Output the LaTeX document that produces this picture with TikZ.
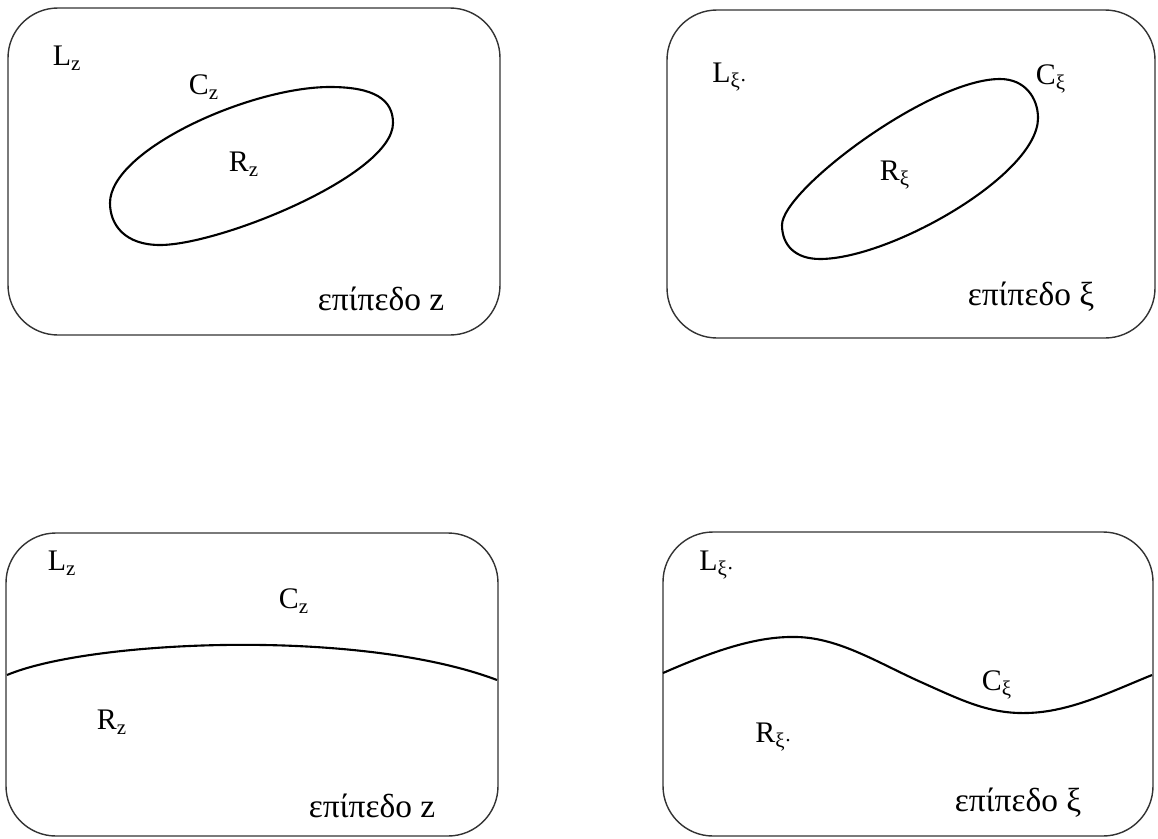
\documentclass[tikz,border=0pt]{standalone}
\usepackage{fontspec}
\setmainfont{Liberation Serif}
\usetikzlibrary{positioning}

\begin{document}
\begin{tikzpicture}[x=0.02cm,y=-0.02cm,
  frame/.style={draw=black!80, line width=0.8pt, rounded corners=1cm},
  contour/.style={draw=black, line width=1.2pt},
  lab/.style={inner sep=0pt, font=\fontsize{17}{19}\selectfont},
  plane/.style={inner sep=0pt, font=\fontsize{19}{21}\selectfont}]
\useasboundingbox (0,0) rectangle (1158,838);

% the four planes
\draw[frame] (8,8) rectangle (500,335);
\draw[frame] (667,10) rectangle (1155,338);
\draw[frame] (6,533) rectangle (498,836);
\draw[frame] (663,532) rectangle (1153,836);

% closed contours
\draw[contour] (330,87) .. controls (375,87) and (393,100) .. (393,123)
  .. controls (393,175) and (220,245) .. (160,245)
  .. controls (125,245) and (110,225) .. (110,203)
  .. controls (110,150) and (250,87) .. cycle;
\draw[contour] (1000,79) .. controls (1025,79) and (1038,98) .. (1038,118)
  .. controls (1038,175) and (890,259) .. (820,259)
  .. controls (795,259) and (782,245) .. (782,225)
  .. controls (782,190) and (930,79) .. cycle;

% open contours
\coordinate (P1) at (7,675);
\coordinate (P2) at (497,680);
\draw[contour] (P1) .. controls (90,640) and (360,628) .. (P2);
\coordinate (Q1) at (663,673);
\coordinate (Q2) at (1152,675);
\draw[contour] (Q1) .. controls (720,648) and (760,636) .. (797,637)
  .. controls (840,638) and (880,664) .. (923,683)
  .. controls (963,701) and (990,714) .. (1027,713)
  .. controls (1070,712) and (1110,692) .. (Q2);

% labels
\node[lab] (L1) at (67,58) {L\textsubscript{z}};
\node[lab] (C1) at (204,87) {C\textsubscript{z}};
\node[lab] (R1) at (244,164) {R\textsubscript{z}};
\node[plane] (E1) at (381,299) {επίπεδο z};

\node[lab] (L2) at (730,77) {L\textsubscript{ξ·}};
\node[lab] (C2) at (1051,79) {C\textsubscript{ξ}};
\node[lab] (R2) at (895,175) {R\textsubscript{ξ}};
\node[plane] (E2) at (1031,297) {επίπεδο ξ};

\node[lab] (L3) at (62,563) {L\textsubscript{z}};
\node[lab] (C3) at (294,601) {C\textsubscript{z}};
\node[lab] (R3) at (112,722) {R\textsubscript{z}};
\node[plane] (E3) at (372,806) {επίπεδο z};

\node[lab] (L4) at (717,565) {L\textsubscript{ξ·}};
\node[lab] (C4) at (997,685) {C\textsubscript{ξ}};
\node[lab] (R4) at (774,737) {R\textsubscript{ξ·}};
\node[plane] (E4) at (1018,803) {επίπεδο ξ};

\end{tikzpicture}
\end{document}
